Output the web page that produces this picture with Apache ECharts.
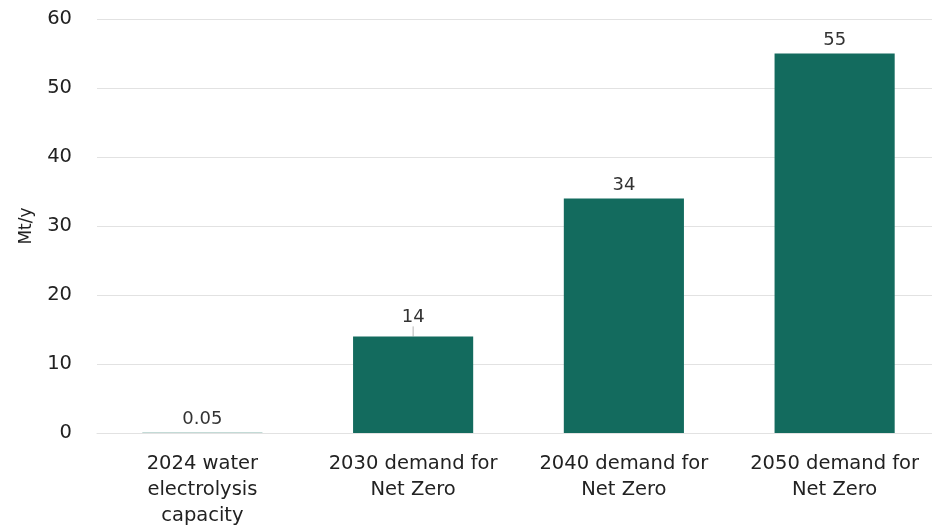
<!DOCTYPE html>
<html>
<head>
<meta charset="utf-8">
<script src="https://cdn.jsdelivr.net/npm/echarts@6/dist/echarts.min.js"></script>
<style>
  html, body { margin: 0; padding: 0; background: #fff; }
  #chart { width: 932px; height: 527px; }
</style>
</head>
<body>
<div id="chart"></div>
<script>
// Hydrogen from water electrolysis: installed capacity vs. Net Zero demand
const categories = [
  '2024 water\nelectrolysis\ncapacity',
  '2030 demand for\nNet Zero',
  '2040 demand for\nNet Zero',
  '2050 demand for\nNet Zero'
];
const values = [0.05, 14, 34, 55];
const valueLabels = ['0.05', '14', '34', '55'];
const yTicks = { min: 0, max: 60, interval: 10 };

// index of the bar whose label is lifted and tied back with a guide line
const GUIDED = 1;

const FONT = '"DejaVu Sans", sans-serif';
const chart = echarts.init(document.getElementById('chart'));

const barData = values.map((v, i) => (i === GUIDED
  ? { value: v, labelLine: { show: true, length2: 0, lineStyle: { color: '#b5b5b5', width: 1 } } }
  : { value: v, labelLine: { show: false } }));

chart.setOption({
  animation: false,
  textStyle: { fontFamily: FONT },
  // plot runs slightly past the right edge of the canvas
  grid: {
    left: 97, width: 843, top: 19, height: 414,
    containLabel: false,
    outerBoundsMode: 'none'
  },
  xAxis: {
    type: 'category',
    data: categories,
    axisTick: { show: false },
    axisLine: { show: true, lineStyle: { color: '#e2e2e2', width: 1 } },
    axisLabel: {
      color: '#222',
      fontSize: 19.5,
      lineHeight: 26,
      margin: 18,
      fontFamily: FONT,
      interval: 0
    }
  },
  yAxis: {
    type: 'value',
    min: yTicks.min,
    max: yTicks.max,
    interval: yTicks.interval,
    name: 'Mt/y',
    nameLocation: 'middle',
    nameGap: 62,
    nameRotate: 90,
    nameTextStyle: { color: '#222', fontSize: 17, fontFamily: FONT },
    axisLabel: { color: '#222', fontSize: 19.5, margin: 25, fontFamily: FONT },
    splitLine: { lineStyle: { color: '#e2e2e2', width: 1 } },
    axisLine: { show: false },
    axisTick: { show: false }
  },
  series: [{
    type: 'bar',
    data: barData,
    barWidth: '57%',
    itemStyle: { color: '#136b5e' },
    label: {
      show: true,
      position: 'top',
      distance: 4,
      color: '#333',
      fontSize: 18,
      fontFamily: FONT,
      formatter: p => valueLabels[p.dataIndex]
    },
    labelLayout: p => (p.dataIndex === GUIDED ? { dy: -6 } : {})
  }]
});
</script>
</body>
</html>
